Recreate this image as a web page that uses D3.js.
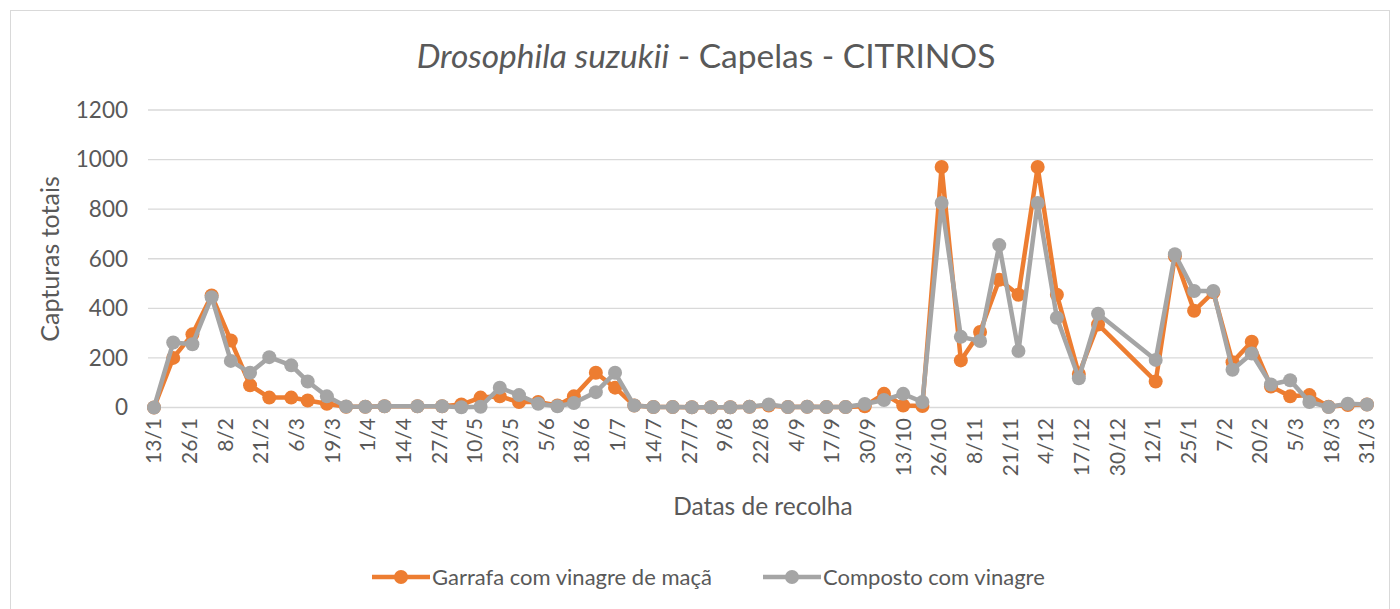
<!DOCTYPE html>
<html>
<head>
<meta charset="utf-8">
<script src="https://cdn.jsdelivr.net/npm/d3@7"></script>
<style>
    body { margin: 0; background: #fff; }
    text { font-family: Lato, "Open Sans", sans-serif; fill: #595959; }
</style>
</head>
<body>
<div id="chart"></div>
<script>

// collection dates
var dates = ["2018-01-13","2018-01-20","2018-01-27","2018-02-03","2018-02-10","2018-02-17","2018-02-24",
    "2018-03-04","2018-03-10","2018-03-17","2018-03-24","2018-03-31","2018-04-07","2018-04-19","2018-04-28",
    "2018-05-05","2018-05-12","2018-05-19","2018-05-26","2018-06-02","2018-06-09","2018-06-15","2018-06-23",
    "2018-06-30","2018-07-07","2018-07-14","2018-07-21","2018-07-28","2018-08-04","2018-08-11","2018-08-18",
    "2018-08-25","2018-09-01","2018-09-08","2018-09-15","2018-09-22","2018-09-29","2018-10-06","2018-10-13",
    "2018-10-20","2018-10-27","2018-11-03","2018-11-10","2018-11-17","2018-11-24","2018-12-01","2018-12-08",
    "2018-12-16","2018-12-23","2019-01-13","2019-01-20","2019-01-27","2019-02-03","2019-02-10","2019-02-17",
    "2019-02-24","2019-03-03","2019-03-10","2019-03-17","2019-03-24","2019-03-31"];

var garrafa = [0,200,295,452,270,90,40,40,28,15,
    3,3,5,5,5,12,40,45,22,22,
    8,45,140,80,8,2,2,1,1,1,
    3,8,2,3,2,2,5,55,8,6,
    970,190,305,515,455,970,455,135,335,105,
    610,390,465,183,265,85,45,50,3,10,
    12];

var composto = [0,262,255,445,188,140,203,170,105,45,
    4,3,5,5,5,1,3,80,50,15,
    5,18,62,140,8,2,2,1,1,1,
    3,12,2,3,2,2,14,30,55,22,
    825,285,268,655,228,825,362,118,378,192,
    618,470,470,152,218,93,110,22,2,15,
    12];

var seriesNames = ["Garrafa com vinagre de maçã", "Composto com vinagre"];
var seriesColors = ["#ED7D31", "#A5A5A5"];

// axis ticks (every 13 days, as in the original)
var tickDates = ["2018-01-13","2018-01-26","2018-02-08","2018-02-21","2018-03-06","2018-03-19","2018-04-01",
    "2018-04-14","2018-04-27","2018-05-10","2018-05-23","2018-06-05","2018-06-18","2018-07-01","2018-07-14",
    "2018-07-27","2018-08-09","2018-08-22","2018-09-04","2018-09-17","2018-09-30","2018-10-13","2018-10-26",
    "2018-11-08","2018-11-21","2018-12-04","2018-12-17","2018-12-30","2019-01-12","2019-01-25","2019-02-07",
    "2019-02-20","2019-03-05","2019-03-18","2019-03-31"];
var yTicks = [0, 200, 400, 600, 800, 1000, 1200];

var parse = d3.timeParse("%Y-%m-%d");
var W = 1400, H = 609;

var svg = d3.select("#chart").append("svg")
    .attr("width", W)
    .attr("height", H);

svg.append("rect")
    .attr("x", 10.5).attr("y", 10.5)
    .attr("width", 1379).attr("height", 640)
    .attr("fill", "#fff")
    .attr("stroke", "#d9d9d9");

var x = d3.scaleTime()
    .domain([parse(tickDates[0]), parse(tickDates[tickDates.length - 1])])
    .range([154, 1367]);

var y = d3.scaleLinear()
    .domain([0, 1200])
    .range([407.5, 110]);

// gridlines
svg.append("g")
    .selectAll("line")
    .data(yTicks)
    .enter().append("line")
    .attr("x1", 148).attr("x2", 1373)
    .attr("y1", function (d) { return y(d); })
    .attr("y2", function (d) { return y(d); })
    .attr("stroke", "#d9d9d9")
    .attr("stroke-width", 1.3);

// y axis labels
svg.append("g")
    .selectAll("text")
    .data(yTicks)
    .enter().append("text")
    .attr("x", 128)
    .attr("y", function (d) { return y(d); })
    .attr("dy", "0.35em")
    .attr("text-anchor", "end")
    .style("font-size", "22.5px")
    .text(function (d) { return d; });

// x axis labels (rotated)
var fmt = d3.timeFormat("%-d/%-m");
svg.append("g")
    .selectAll("text")
    .data(tickDates)
    .enter().append("text")
    .attr("transform", function (d) {
        return "translate(" + x(parse(d)) + ",418) rotate(-90)";
    })
    .attr("dy", "0.35em")
    .attr("text-anchor", "end")
    .style("font-size", "21px")
    .text(function (d) { return fmt(parse(d)); });

// series
var line = d3.line()
    .x(function (d) { return x(d.date); })
    .y(function (d) { return y(d.value); });

[garrafa, composto].forEach(function (vals, i) {
    var data = dates.map(function (d, j) { return {date: parse(d), value: vals[j]}; });
    var g = svg.append("g");
    g.append("path")
        .datum(data)
        .attr("d", line)
        .attr("fill", "none")
        .attr("stroke", seriesColors[i])
        .attr("stroke-width", 4.5)
        .attr("stroke-linejoin", "round");
    g.selectAll("circle")
        .data(data)
        .enter().append("circle")
        .attr("cx", function (d) { return x(d.date); })
        .attr("cy", function (d) { return y(d.value); })
        .attr("r", 7)
        .attr("fill", seriesColors[i]);
});

// titles
var title = svg.append("text")
    .attr("x", 706)
    .attr("y", 68)
    .attr("text-anchor", "middle")
    .style("font-size", "33.5px");
title.append("tspan").style("font-style", "italic").text("Drosophila suzukii");
title.append("tspan").text(" - Capelas - CITRINOS");

svg.append("text")
    .attr("transform", "translate(59,259) rotate(-90)")
    .attr("text-anchor", "middle")
    .style("font-size", "25px")
    .text("Capturas totais");

svg.append("text")
    .attr("x", 763)
    .attr("y", 515)
    .attr("text-anchor", "middle")
    .style("font-size", "24.5px")
    .text("Datas de recolha");

// legend
var legendX = [372, 763];
var legend = svg.append("g");
seriesNames.forEach(function (name, i) {
    var lx = legendX[i];
    legend.append("line")
        .attr("x1", lx).attr("x2", lx + 58)
        .attr("y1", 577).attr("y2", 577)
        .attr("stroke", seriesColors[i])
        .attr("stroke-width", 4.5);
    legend.append("circle")
        .attr("cx", lx + 29).attr("cy", 577)
        .attr("r", 7)
        .attr("fill", seriesColors[i]);
    legend.append("text")
        .attr("x", lx + 60)
        .attr("y", 577)
        .attr("dy", "0.35em")
        .style("font-size", "22px")
        .text(name);
});

</script>
</body>
</html>
